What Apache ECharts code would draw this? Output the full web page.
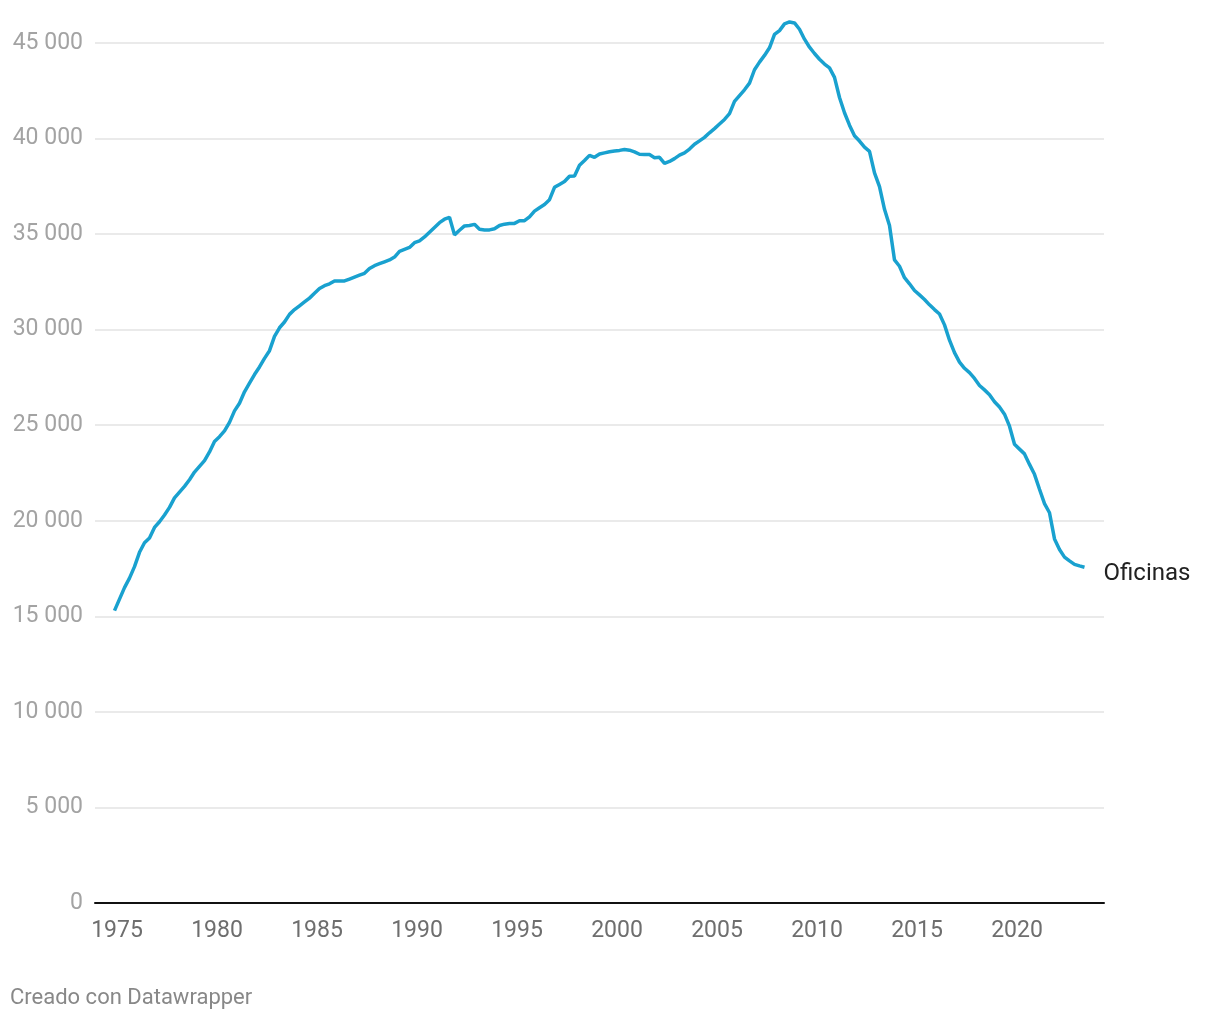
<!DOCTYPE html>
<html>
<head>
<meta charset="utf-8">
<script src="https://cdn.jsdelivr.net/npm/echarts@6/dist/echarts.min.js"></script>
<style>
  html, body { margin: 0; padding: 0; background: #fff; }
  #chart { width: 1220px; height: 1020px; }
</style>
</head>
<body>
<div id="chart"></div>
<script>
  // Oficinas, trimestral 1975T1 - 2023T3
  var firstYear = 1975
  var seriesName = 'Oficinas'
  var values = [
    15300, 15900, 16500, 17000,
    17600, 18350, 18850, 19100,
    19650, 19950, 20300, 20700,
    21200, 21500, 21800, 22150,
    22550, 22850, 23150, 23600,
    24150, 24400, 24700, 25150,
    25750, 26150, 26750, 27200,
    27650, 28050, 28500, 28900,
    29650, 30100, 30400, 30800,
    31050, 31250, 31450, 31650,
    31900, 32150, 32300, 32400,
    32550, 32550, 32550, 32650,
    32750, 32850, 32950, 33200,
    33350, 33450, 33550, 33650,
    33800, 34100, 34200, 34300,
    34550, 34650, 34850, 35100,
    35350, 35600, 35780, 35880,
    34960, 35200, 35430, 35450,
    35510, 35250, 35220, 35220,
    35280, 35450, 35520, 35550,
    35560, 35700, 35700, 35900,
    36200, 36380, 36550, 36800,
    37450, 37600, 37750, 38030,
    38040, 38600, 38850, 39120,
    39020, 39190, 39250, 39310,
    39350, 39380, 39430, 39390,
    39300, 39180, 39170, 39160,
    39000, 39020, 38700, 38800,
    38950, 39130, 39250, 39450,
    39700, 39880, 40060, 40300,
    40520, 40760, 41000, 41300,
    41950, 42250, 42550, 42900,
    43600, 44000, 44350, 44750,
    45450, 45650, 46000, 46100,
    46050, 45720, 45200, 44780,
    44450, 44150, 43900, 43700,
    43200, 42150, 41350, 40700,
    40150, 39870, 39550, 39330,
    38200, 37480, 36300, 35450,
    33650, 33320, 32720, 32400,
    32050, 31820, 31580, 31300,
    31050, 30820, 30250, 29450,
    28800, 28300, 27980, 27750,
    27450, 27080, 26850, 26600,
    26230, 25950, 25580, 24950,
    24000, 23750, 23500, 22950,
    22430, 21650, 20900, 20420,
    19050, 18500, 18100, 17900,
    17720, 17640, 17570
  ]
  var yearTicks = [1975, 1980, 1985, 1990, 1995, 2000, 2005, 2010, 2015, 2020]

  var data = []
  for (var i = 0; i < values.length; i++) {
    // cada trimestre, centrado en su posición
    data.push([firstYear - 0.125 + i * 0.25, values[i]])
  }

  function fmt (v) {
    return String(v).replace(/\B(?=(\d{3})+(?!\d))/g, ' ')
  }

  var chart = echarts.init(document.getElementById('chart'))
  var option = {
    animation: false,
    textStyle: { fontFamily: 'Roboto' },
    grid: { left: 95, right: 116, top: 43, bottom: 117 },
    xAxis: {
      type: 'value',
      min: 1973.9,
      max: 2024.35,
      axisLine: { show: true, lineStyle: { color: '#111', width: 2 } },
      axisTick: { show: false },
      splitLine: { show: false },
      axisLabel: {
        customValues: yearTicks,
        color: '#6e6e6e',
        fontSize: 23,
        margin: 17,
        formatter: function (v) { return String(v) }
      }
    },
    yAxis: {
      type: 'value',
      min: 0,
      max: 45000,
      interval: 5000,
      axisLine: { show: false },
      axisTick: { show: false },
      splitLine: { lineStyle: { color: '#e3e3e3', width: 1.5 } },
      axisLabel: {
        color: '#a3a3a3',
        fontSize: 23,
        margin: 12,
        formatter: fmt
      }
    },
    graphic: [{
      type: 'text',
      left: 10,
      top: 987,
      style: { text: 'Creado con Datawrapper', fill: '#888', fontSize: 22, fontFamily: 'Roboto' }
    }],
    series: [{
      name: seriesName,
      type: 'line',
      data: data,
      showSymbol: false,
      clip: false,
      lineStyle: { color: '#19a1cf', width: 3.5 },
      endLabel: {
        show: true,
        formatter: seriesName,
        color: '#222',
        fontSize: 24,
        distance: 19,
        offset: [0, 7]
      }
    }]
  }
  chart.setOption(option)
</script>
</body>
</html>
